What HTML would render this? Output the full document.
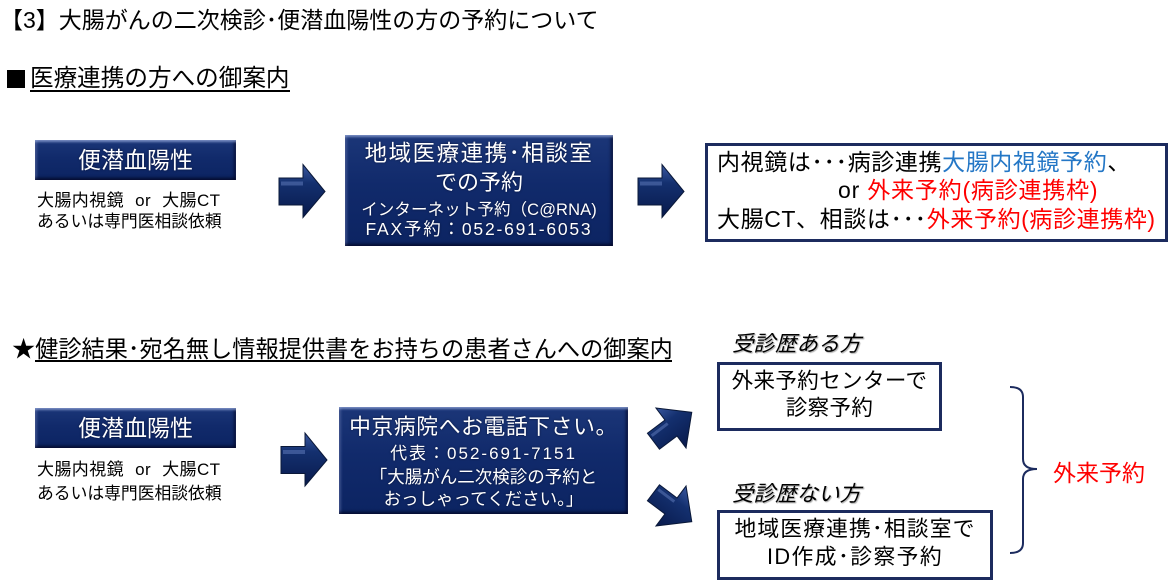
<!DOCTYPE html>
<html><head><meta charset="utf-8">
<style>
html,body{margin:0;padding:0;background:#fff;}
#p{position:relative;width:1172px;height:587px;overflow:hidden;background:#fff;font-family:"Liberation Sans","Noto Sans CJK JP",sans-serif;color:#000;}
.t{position:absolute;white-space:nowrap;}
.c{position:absolute;white-space:nowrap;text-align:center;}
.w{color:#fff;text-shadow:0 0 2px rgba(0,0,20,.6);}
.nb{position:absolute;background:linear-gradient(#1b3678 0%,#112a6b 45%,#0c2462 100%);
box-shadow:inset 0 3px 2px -1px rgba(150,170,220,.75),inset 0 -3px 3px -1px rgba(0,0,25,.7),inset 3px 0 2px -1px rgba(110,130,190,.5),inset -3px 0 3px -1px rgba(0,0,30,.6);}
.ob{position:absolute;border:3px solid #1c2b5e;box-sizing:border-box;background:#fff;}
.ul{position:absolute;height:1.6px;background:#000;}
.it{font-style:italic;text-shadow:1px 1px 1px #aaa;}
.red{color:#ff0000;}
.blue{color:#2477c6;}
</style></head><body>
<div id="p">

<!-- Title -->
<div class="t" style="left:0px;top:6px;font-size:23px;line-height:28px;">【3】大腸がんの二次検診･便潜血陽性の方の予約について</div>

<!-- Section 1 header -->
<div style="position:absolute;left:7px;top:70px;width:18px;height:18px;background:#000;"></div>
<div class="t" style="left:30px;top:65px;font-size:23.6px;line-height:28px;">医療連携の方への御案内</div>
<div class="ul" style="left:30px;top:90px;width:260px;"></div>

<!-- Box 1 top -->
<div class="nb" style="left:35px;top:140px;width:201px;height:40px;"></div>
<div class="c w" style="left:35px;top:140px;width:201px;font-size:23px;line-height:40px;">便潜血陽性</div>
<div class="t" style="left:37px;top:189px;font-size:17px;line-height:23px;word-spacing:6px;letter-spacing:0.4px;">大腸内視鏡 or 大腸CT</div>
<div class="t" style="left:37px;top:210px;font-size:16.8px;line-height:23px;">あるいは専門医相談依頼</div>

<!-- Box 2 top -->
<div class="nb" style="left:345px;top:135px;width:268px;height:111px;"></div>
<div class="c w" style="left:345px;top:140px;width:268px;font-size:22.5px;line-height:28px;letter-spacing:1.5px;">地域医療連携･相談室</div>
<div class="c w" style="left:345px;top:169px;width:268px;font-size:22px;line-height:28px;">での予約</div>
<div class="c w" style="left:345px;top:199px;width:268px;font-size:16.5px;line-height:22px;letter-spacing:0.1px;">インターネット予約（C@RNA)</div>
<div class="c w" style="left:345px;top:218px;width:268px;font-size:17.5px;line-height:22px;letter-spacing:1.8px;">FAX予約：052-691-6053</div>

<!-- Box 3 top -->
<div class="ob" style="left:705px;top:143px;width:463px;height:99px;"></div>
<div class="t" style="left:717px;top:148px;font-size:23px;line-height:28px;letter-spacing:0.6px;">内視鏡は･･･病診連携<span class="blue">大腸内視鏡予約</span>、</div>
<div class="t" style="left:838px;top:176px;font-size:23px;line-height:28px;letter-spacing:0.8px;">or <span class="red">外来予約(病診連携枠)</span></div>
<div class="t" style="left:717px;top:205px;font-size:23px;line-height:28px;letter-spacing:0.6px;">大腸CT、相談は･･･<span class="red">外来予約(病診連携枠)</span></div>

<!-- Section 2 header -->
<div class="t" style="left:12px;top:335px;font-size:23.2px;line-height:28px;">★健診結果･宛名無し情報提供書をお持ちの患者さんへの御案内</div>
<div class="ul" style="left:35px;top:360px;width:637px;"></div>

<!-- Box 1 bottom -->
<div class="nb" style="left:35px;top:408px;width:201px;height:40px;"></div>
<div class="c w" style="left:35px;top:408px;width:201px;font-size:23px;line-height:40px;">便潜血陽性</div>
<div class="t" style="left:37px;top:458px;font-size:17px;line-height:23px;word-spacing:6px;letter-spacing:0.4px;">大腸内視鏡 or 大腸CT</div>
<div class="t" style="left:37px;top:482px;font-size:16.8px;line-height:23px;">あるいは専門医相談依頼</div>

<!-- Box 2 bottom -->
<div class="nb" style="left:339px;top:407px;width:289px;height:107px;"></div>
<div class="c w" style="left:339px;top:413px;width:289px;font-size:21.8px;line-height:28px;letter-spacing:0.6px;">中京病院へお電話下さい。</div>
<div class="c w" style="left:339px;top:442px;width:289px;font-size:17px;line-height:23px;letter-spacing:2px;">代表：052-691-7151</div>
<div class="c w" style="left:339px;top:466px;width:289px;font-size:17.5px;line-height:23px;">「大腸がん二次検診の予約と</div>
<div class="c w" style="left:339px;top:488px;width:289px;font-size:17.5px;line-height:23px;">おっしゃってください。」</div>

<!-- Right side bottom -->
<div class="t it" style="left:732px;top:330px;font-size:21.5px;line-height:28px;">受診歴ある方</div>
<div class="ob" style="left:717px;top:362px;width:225px;height:69px;"></div>
<div class="c" style="left:717px;top:367px;width:225px;font-size:21.5px;line-height:28px;letter-spacing:0.4px;">外来予約センターで</div>
<div class="c" style="left:717px;top:394px;width:225px;font-size:21.5px;line-height:28px;letter-spacing:0.4px;">診察予約</div>

<div class="t it" style="left:732px;top:480px;font-size:21.5px;line-height:28px;">受診歴ない方</div>
<div class="ob" style="left:717px;top:510px;width:276px;height:70px;"></div>
<div class="c" style="left:717px;top:515px;width:276px;font-size:21.8px;line-height:28px;letter-spacing:1.1px;">地域医療連携･相談室で</div>
<div class="c" style="left:717px;top:543px;width:276px;font-size:21.8px;line-height:28px;letter-spacing:1.4px;">ID作成･診察予約</div>

<div class="t red" style="left:1053px;top:459px;font-size:23px;line-height:28px;">外来予約</div>

<svg width="1172" height="587" style="position:absolute;left:0;top:0;" xmlns="http://www.w3.org/2000/svg">
<defs>
<linearGradient id="g" x1="0" y1="0" x2="0" y2="1">
<stop offset="0" stop-color="#3a58a0"/>
<stop offset="0.35" stop-color="#14306f"/>
<stop offset="1" stop-color="#081a4c"/>
</linearGradient>
<g id="ra">
<polygon points="0,-13.5 24,-13.5 24,-27 46,0 24,26 24,13.5 0,13.5" fill="url(#g)" stroke="#0a1838" stroke-width="1"/>
<rect x="2" y="-10" width="22" height="4" fill="#5d78b8" opacity="0.55"/>
</g>
<g id="da">
<polygon points="-22,-10 0,-10 0,-25 26,0 0,25 0,10 -22,10" fill="url(#g)" stroke="#0a1838" stroke-width="1"/>
<rect x="-20" y="-7" width="20" height="3" fill="#5d78b8" opacity="0.55"/>
</g>
</defs>
<use href="#ra" transform="translate(279,191.5)"/>
<use href="#ra" transform="translate(638,191.5)"/>
<use href="#ra" transform="translate(281,460)"/>
<use href="#da" transform="translate(671,428) rotate(-37)"/>
<use href="#da" transform="translate(671,506) rotate(37)"/>
<path d="M1010,387 Q1023,387 1023,397 L1023,459 Q1023,469 1037,469 Q1023,469 1023,479 L1023,543 Q1023,553 1010,553" fill="none" stroke="#1c2b5e" stroke-width="2"/>
</svg>

</div>
</body></html>
